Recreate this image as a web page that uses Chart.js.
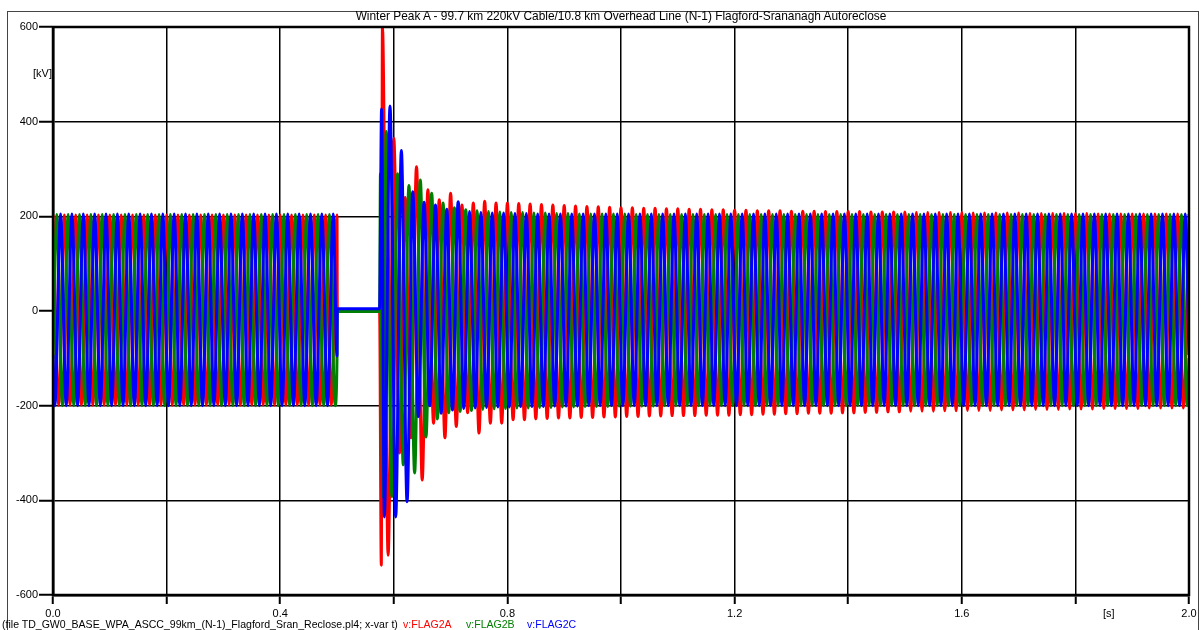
<!DOCTYPE html>
<html>
<head>
<meta charset="utf-8">
<script src="https://cdn.jsdelivr.net/npm/chart.js@4.4.1/dist/chart.umd.min.js"></script>
<style>
  body { margin: 0; background: #fff; }
  #wrap { position: relative; width: 1203px; height: 630px; overflow: hidden;
          font-family: "Liberation Sans", Arial, sans-serif; font-size: 10.55px; color: #000; }
  #frame { position: absolute; left: 7px; top: 11px; width: 1190px; height: 640px; border: 1px solid #444; }
  #chart { position: absolute; left: 0; top: 0; }
  .lbl { position: absolute; white-space: nowrap; line-height: 14px; }
</style>
</head>
<body>
<div id="wrap">
  <div id="frame"></div>
  <canvas id="chart" width="1203" height="630"></canvas>
  <div class="lbl" style="left:53px;width:1136px;text-align:center;top:9px;font-size:11.9px">Winter Peak A - 99.7 km 220kV Cable/10.8 km Overhead Line (N-1) Flagford-Srananagh Autoreclose</div>
  <div class="lbl" style="left:33px;top:66px;font-size:11px">[kV]</div>
  <div class="lbl" style="left:1103px;top:606px;font-size:11px">[s]</div>
  <div class="lbl" style="left:2px;top:617px">(file TD_GW0_BASE_WPA_ASCC_99km_(N-1)_Flagford_Sran_Reclose.pl4; x-var t)</div>
  <div class="lbl" style="left:403px;top:617px;color:#ff0000">v:FLAG2A</div>
  <div class="lbl" style="left:466px;top:617px;color:#008000">v:FLAG2B</div>
  <div class="lbl" style="left:527px;top:617px;color:#0000ff">v:FLAG2C</div>
</div>
<script>
// 50 Hz: one extreme every half period
const HALF = 0.01;

// phase A (red) - extremes from t = 0.00 to 0.50 s
const aPre = [
  203,-199,203,-199,203,-199,203,-199,203,-199,
  203,-199,203,-199,203,-199,203,-199,203,-199,
  203,-199,203,-199,203,-199,203,-199,203,-199,
  203,-199,203,-199,203,-199,203,-199,203,-199,
  203,-199,203,-199,203,-199,203,-199,203,-199,
  203
];
// breaker open, then the first spike at reclose
const aGap = [[0.5005, -1], [0.575, -1], [0.578, -537]];
// extremes from t = 0.58 to 2.00 s
const aPost = [
  600,-516,365,-300,240,-268,305,-357,256,-237,
  235,-268,249,-244,224,-215,228,-258,232,-237,
  228,-237,228,-230,227,-230,226,-228,225,-227,
  224,-226,223,-226,222,-225,221,-225,220,-224,
  219,-224,218,-223,218,-223,217,-222,217,-222,
  216,-221,216,-221,215,-221,215,-220,214,-220,
  214,-220,213,-219,213,-219,212,-218,212,-218,
  212,-217,211,-217,211,-216,211,-216,210,-216,
  210,-215,210,-215,210,-214,209,-214,209,-213,
  209,-213,209,-212,208,-212,208,-212,208,-211,
  208,-211,208,-210,207,-210,207,-210,207,-209,
  207,-209,207,-209,206,-208,206,-208,206,-208,
  206,-207,206,-207,206,-207,205,-206,205,-206,
  205,-206,205,-206,205,-205,205,-205,205,-205,
  205,-205,205
];

// phase B (green) - extremes from t = 0.00667 to 0.49667 s
const bPre = [
  204,-200,204,-200,204,-200,204,-200,204,-200,
  204,-200,204,-200,204,-200,204,-200,204,-200,
  204,-200,204,-200,204,-200,204,-200,204,-200,
  204,-200,204,-200,204,-200,204,-200,204,-200,
  204,-200,204,-200,204,-200,204,-200,204,-200
];
const bStart = [[0, -100]];
const bGap = [[0.5, -100], [0.5005, -1], [0.575, -1], [0.5765, 290], [0.5805, -392]];
// extremes from t = 0.58667 to 1.99667 s
const bPost = [
  379,-392,290,-325,265,-342,277,-266,249,-228,
  228,-215,218,-212,214,-210,212,-208,210,-207,
  209,-206,208,-205,208,-205,207,-204,207,-204,
  206,-203,206,-203,205,-202,205,-202,205,-202,
  205,-201,205,-201,204,-201,204,-201,204,-200,
  204,-200,204,-200,204,-200,204,-200,204,-200,
  204,-200,204,-200,204,-200,204,-200,204,-200,
  204,-200,204,-200,204,-200,204,-200,204,-200,
  204,-200,204,-200,204,-200,204,-200,204,-200,
  204,-200,204,-200,204,-200,204,-200,204,-200,
  204,-200,204,-200,204,-200,204,-200,204,-200,
  204,-200,204,-200,204,-200,204,-200,204,-200,
  204,-200,204,-200,204,-200,204,-200,204,-200,
  204,-200,204,-200,204,-200,204,-200,204,-200,
  204,-200
];
const bEnd = [[2.0, -100]];

// phase C (blue) - extremes from t = 0.00333 to 0.49333 s
const cPre = [
  -200,205,-200,205,-200,205,-200,205,-200,205,
  -200,205,-200,205,-200,205,-200,205,-200,205,
  -200,205,-200,205,-200,205,-200,205,-200,205,
  -200,205,-200,205,-200,205,-200,205,-200,205,
  -200,205,-200,205,-200,205,-200,205,-200,205
];
const cStart = [[0, -93]];
const cGap = [[0.5, -95], [0.5005, 5], [0.575, 5], [0.5785, 427]];
// extremes from t = 0.58333 to 1.99333 s
const cPost = [
  -435,433,-435,339,-403,252,-223,230,-200,224,
  -216,215,-209,231,-206,210,-205,208,-204,207,
  -203,207,-203,206,-202,206,-202,205,-202,205,
  -201,205,-201,205,-201,205,-200,205,-200,205,
  -200,205,-200,205,-200,205,-200,205,-200,205,
  -200,205,-200,205,-200,205,-200,205,-200,205,
  -200,205,-200,205,-200,205,-200,205,-200,205,
  -200,205,-200,205,-200,205,-200,205,-200,205,
  -200,205,-200,205,-200,205,-200,205,-200,205,
  -200,205,-200,205,-200,205,-200,205,-200,205,
  -200,205,-200,205,-200,205,-200,205,-200,205,
  -200,205,-200,205,-200,205,-200,205,-200,205,
  -200,205,-200,205,-200,205,-200,205,-200,205,
  -200,205,-200,205,-200,205,-200,205,-200,205,
  -200,205
];
const cEnd = [[2.0, -93]];

// turn a run of half-period extremes into points
function wave(t0, vals) {
  return vals.map((v, i) => ({ x: t0 + i * HALF, y: v }));
}
function pts(list) {
  return list.map(p => ({ x: p[0], y: p[1] }));
}

const seriesA = [...wave(0, aPre), ...pts(aGap), ...wave(0.58, aPost)];
const seriesB = [...pts(bStart), ...wave(0.00667, bPre), ...pts(bGap), ...wave(0.58667, bPost), ...pts(bEnd)];
const seriesC = [...pts(cStart), ...wave(0.00333, cPre), ...pts(cGap), ...wave(0.58333, cPost), ...pts(cEnd)];

// thick frame round the plot area
const plotFrame = {
  id: 'plotFrame',
  afterDraw(chart) {
    const { ctx, chartArea: a } = chart;
    ctx.save();
    ctx.strokeStyle = '#000';
    ctx.lineWidth = 2.5;
    ctx.strokeRect(a.left, a.top, a.right - a.left, a.bottom - a.top);
    ctx.restore();
  }
};

function line(data, color, order) {
  return {
    data: data,
    borderColor: color,
    borderWidth: 3,
    pointRadius: 0,
    cubicInterpolationMode: 'monotone', // flat tops at the extremes, like a sine
    fill: false,
    order: order
  };
}

const tickFont = { family: '"Liberation Sans", Arial, sans-serif', size: 11 };

new Chart(document.getElementById('chart').getContext('2d'), {
  type: 'line',
  data: {
    datasets: [
      line(seriesA, '#ff0000', 3),
      line(seriesB, '#008000', 2),
      line(seriesC, '#0000ff', 1)
    ]
  },
  options: {
    responsive: false,
    animation: false,
    events: [],
    layout: { padding: { top: 27, right: 14, left: 0, bottom: 0 } },
    plugins: { legend: { display: false }, tooltip: { enabled: false } },
    scales: {
      x: {
        type: 'linear',
        min: 0,
        max: 2,
        afterFit(scale) { scale.height = 35; },
        border: { color: '#000', width: 2.5 },
        grid: { color: '#000', lineWidth: 1.5, tickLength: 9, tickColor: '#000', tickWidth: 2 },
        ticks: {
          stepSize: 0.2,
          padding: 3,
          color: '#000',
          font: tickFont,
          maxRotation: 0,
          autoSkip: false,
          callback: (v) => (Math.round(v * 10) % 4 === 0 ? v.toFixed(1) : '')
        }
      },
      y: {
        min: -600,
        max: 600,
        afterFit(scale) { scale.width = 53; },
        border: { color: '#000', width: 2.5 },
        grid: { color: '#000', lineWidth: 1.5, tickLength: 14, tickColor: '#000', tickWidth: 2 },
        ticks: {
          stepSize: 200,
          padding: 1,
          color: '#000',
          font: tickFont
        }
      }
    }
  },
  plugins: [plotFrame]
});
</script>
</body>
</html>
